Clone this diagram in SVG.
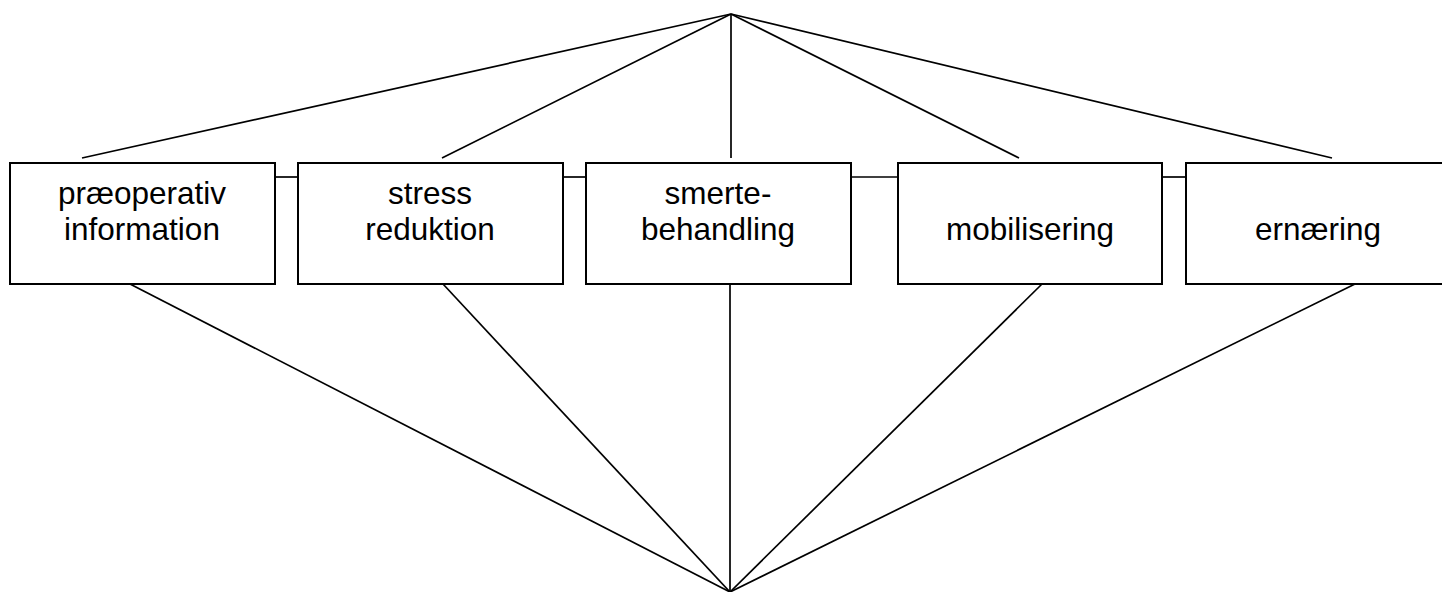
<svg xmlns="http://www.w3.org/2000/svg" width="1442" height="592" viewBox="0 0 1442 592">
  <style>
    .box { fill: #ffffff; stroke: #000000; stroke-width: 2; }
    .lbl { font-family: "Liberation Sans", Arial, sans-serif; font-size: 31.5px; fill: #000000; text-anchor: middle; }
    .edge { stroke: #000000; stroke-width: 1.7; fill: none; }
  </style>
  <rect width="1442" height="592" fill="#ffffff"/>

  <g id="connectors">
    <!-- upper fan -->
    <line class="edge" x1="731" y1="14" x2="82" y2="158"/>
    <line class="edge" x1="731" y1="14" x2="442" y2="158"/>
    <line class="edge" x1="731" y1="14" x2="731" y2="158"/>
    <line class="edge" x1="731" y1="14" x2="1019" y2="158"/>
    <line class="edge" x1="731" y1="14" x2="1332" y2="158"/>
    <!-- lower fan -->
    <line class="edge" x1="130" y1="284" x2="730" y2="592"/>
    <line class="edge" x1="443" y1="284" x2="730" y2="592"/>
    <line class="edge" x1="730" y1="284" x2="730" y2="592"/>
    <line class="edge" x1="1042" y1="284" x2="730" y2="592"/>
    <line class="edge" x1="1355" y1="284" x2="730" y2="592"/>
    <!-- links between boxes -->
    <line class="edge" x1="275" y1="177" x2="298" y2="177"/>
    <line class="edge" x1="563" y1="177" x2="586" y2="177"/>
    <line class="edge" x1="851" y1="177" x2="898" y2="177"/>
    <line class="edge" x1="1162" y1="177" x2="1186" y2="177"/>
  </g>

  <g id="node-praeoperativ">
    <rect class="box" x="10" y="163" width="265" height="121"/>
    <text class="lbl" x="142" y="204">præoperativ</text>
    <text class="lbl" x="142" y="240">information</text>
  </g>
  <g id="node-stress">
    <rect class="box" x="298" y="163" width="265" height="121"/>
    <text class="lbl" x="430" y="204">stress</text>
    <text class="lbl" x="430" y="240">reduktion</text>
  </g>
  <g id="node-smerte">
    <rect class="box" x="586" y="163" width="265" height="121"/>
    <text class="lbl" x="718" y="204">smerte-</text>
    <text class="lbl" x="718" y="240">behandling</text>
  </g>
  <g id="node-mobilisering">
    <rect class="box" x="898" y="163" width="264" height="121"/>
    <text class="lbl" x="1030" y="240">mobilisering</text>
  </g>
  <g id="node-ernaering">
    <rect class="box" x="1186" y="163" width="264" height="121"/>
    <text class="lbl" x="1318" y="240">ernæring</text>
  </g>
</svg>
